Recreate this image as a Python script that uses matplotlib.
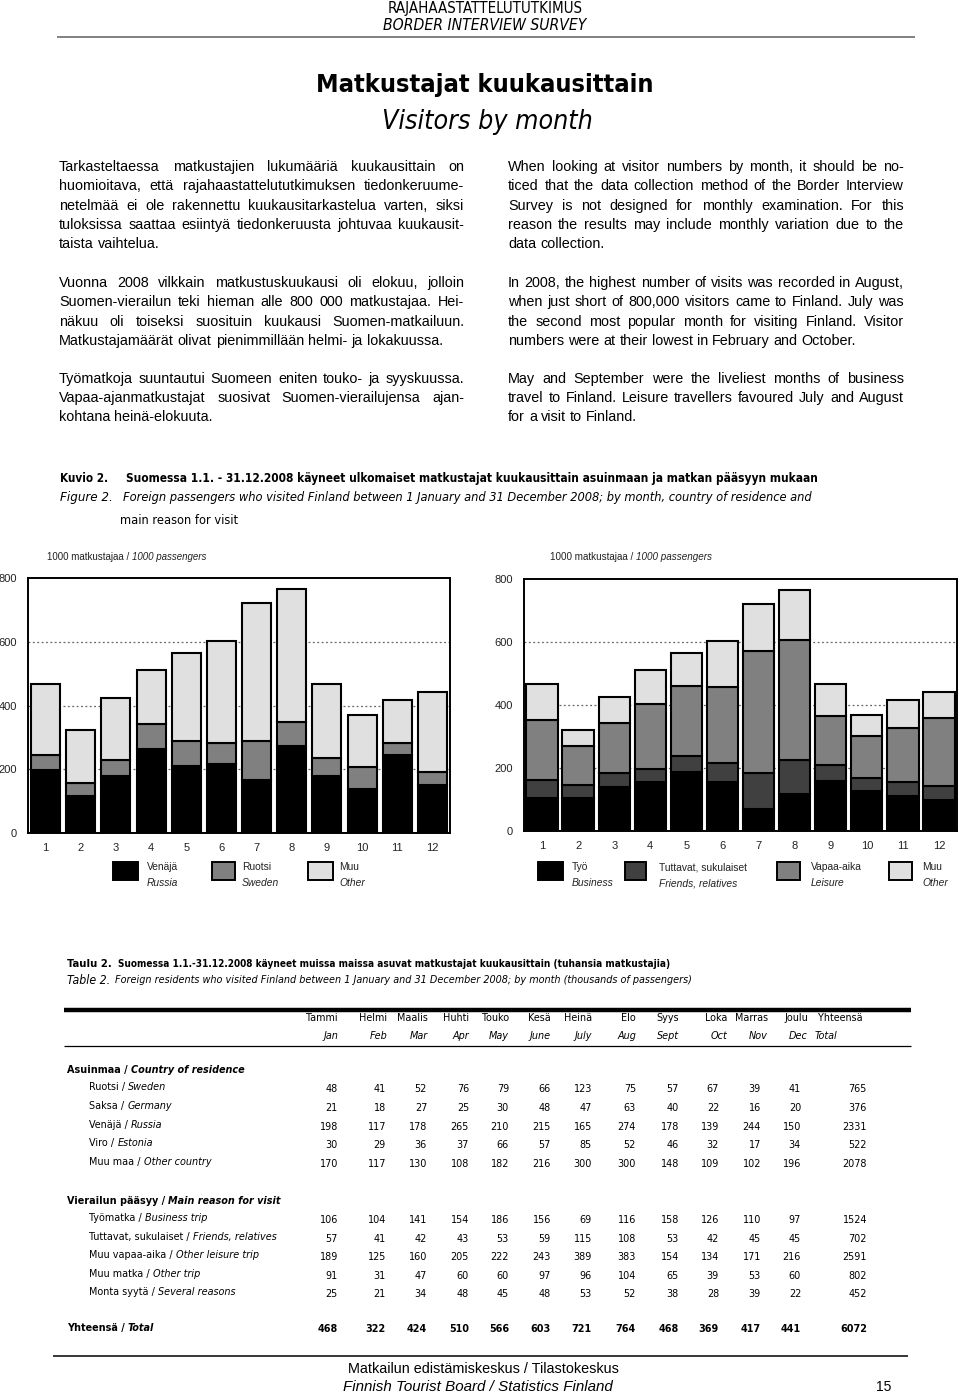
import matplotlib
matplotlib.use("Agg")
import matplotlib.pyplot as plt
import numpy as np
from matplotlib import font_manager
from matplotlib.font_manager import FontProperties
from matplotlib.lines import Line2D
from matplotlib.patches import Rectangle

W, H = 960, 1393
SANS = "Liberation Sans"
plt.rcParams["font.family"] = [SANS, "DejaVu Sans"]


# a condensed family looks closer to the Arial Narrow of the original
def _bold(w):
    if isinstance(w, str):
        return w.lower() in ("bold", "heavy", "black", "extra bold", "demibold", "semibold")
    return w >= 600


def _find_narrow():
    bad = ("semi", "extra", "ultra", "display", "mono", "ui")
    for pref in ["Liberation Sans Narrow", "Noto Sans", "DejaVu Sans", "Open Sans", "Roboto", "Arimo"]:
        group = {}
        for f in font_manager.fontManager.ttflist:
            nm = f.name.lower()
            if not f.name.startswith(pref) or any(b in nm for b in bad):
                continue
            cond = ("narrow" in nm or "cond" in nm or f.stretch == "condensed")
            if not cond or f.stretch in ("semi-condensed", "extra-condensed", "ultra-condensed"):
                continue
            key = (_bold(f.weight), f.style in ("italic", "oblique"))
            group.setdefault(key, f.fname)
        if (False, False) in group:
            return group
    return None


NARROW_FILES = _find_narrow()

# --- data (1000 passengers) ---
months = [str(m) for m in range(1, 13)]
months_fi = ["Tammi", "Helmi", "Maalis", "Huhti", "Touko", "Kesä", "Heinä",
             "Elo", "Syys", "Loka", "Marras", "Joulu"]
months_en = ["Jan", "Feb", "Mar", "Apr", "May", "June", "July", "Aug",
             "Sept", "Oct", "Nov", "Dec"]

sweden = [48, 41, 52, 76, 79, 66, 123, 75, 57, 67, 39, 41]
germany = [21, 18, 27, 25, 30, 48, 47, 63, 40, 22, 16, 20]
russia = [198, 117, 178, 265, 210, 215, 165, 274, 178, 139, 244, 150]
estonia = [30, 29, 36, 37, 66, 57, 85, 52, 46, 32, 17, 34]
other_country = [170, 117, 130, 108, 182, 216, 300, 300, 148, 109, 102, 196]

business = [106, 104, 141, 154, 186, 156, 69, 116, 158, 126, 110, 97]
friends = [57, 41, 42, 43, 53, 59, 115, 108, 53, 42, 45, 45]
leisure = [189, 125, 160, 205, 222, 243, 389, 383, 154, 134, 171, 216]
other_trip = [91, 31, 47, 60, 60, 97, 96, 104, 65, 39, 53, 60]
several = [25, 21, 34, 48, 45, 48, 53, 52, 38, 28, 39, 22]

total = [468, 322, 424, 510, 566, 603, 721, 764, 468, 369, 417, 441]

country_labels = [("Ruotsi /", "Sweden"), ("Saksa /", "Germany"), ("Venäjä /", "Russia"),
                  ("Viro /", "Estonia"), ("Muu maa /", "Other country")]
country_rows = [sweden, germany, russia, estonia, other_country]
country_totals = [765, 376, 2331, 522, 2078]

reason_labels = [("Työmatka /", "Business trip"), ("Tuttavat, sukulaiset /", "Friends, relatives"),
                 ("Muu vapaa-aika /", "Other leisure trip"), ("Muu matka /", "Other trip"),
                 ("Monta syytä /", "Several reasons")]
reason_rows = [business, friends, leisure, other_trip, several]
reason_totals = [1524, 702, 2591, 802, 452]
grand_total = 6072

text_fi = [
    ["Tarkasteltaessa matkustajien lukumääriä kuukausittain on",
     "huomioitava, että rajahaastattelututkimuksen tiedonkeruume-",
     "netelmää ei ole rakennettu kuukausitarkastelua varten, siksi",
     "tuloksissa saattaa esiintyä tiedonkeruusta johtuvaa kuukausit-",
     "taista vaihtelua."],
    ["Vuonna 2008 vilkkain matkustuskuukausi oli elokuu, jolloin",
     "Suomen-vierailun teki hieman alle 800 000 matkustajaa. Hei-",
     "näkuu oli toiseksi suosituin kuukausi Suomen-matkailuun.",
     "Matkustajamäärät olivat pienimmillään helmi- ja lokakuussa."],
    ["Työmatkoja suuntautui Suomeen eniten touko- ja syyskuussa.",
     "Vapaa-ajanmatkustajat suosivat Suomen-vierailujensa ajan-",
     "kohtana heinä-elokuuta."],
]
text_en = [
    ["When looking at visitor numbers by month, it should be no-",
     "ticed that the data collection method of the Border Interview",
     "Survey is not designed for monthly examination. For this",
     "reason the results may include monthly variation due to the",
     "data collection."],
    ["In 2008, the highest number of visits was recorded in August,",
     "when just short of 800,000 visitors came to Finland. July was",
     "the second most popular month for visiting Finland. Visitor",
     "numbers were at their lowest in February and October."],
    ["May and September were the liveliest months of business",
     "travel to Finland.  Leisure travellers favoured July and August",
     "for a visit to Finland."],
]

fig = plt.figure(figsize=(W / 100, H / 100), dpi=100)
fig.patch.set_facecolor("white")
renderer = fig.canvas.get_renderer()


def fx(px):
    return px / W


def fy(py):
    return 1 - py / H


def fprop(size, style="normal", weight="normal", narrow=False):
    if narrow and NARROW_FILES:
        key = (weight == "bold", style == "italic")
        fn = NARROW_FILES.get(key)
        if fn is None:
            fn = NARROW_FILES.get((key[0], False)) or NARROW_FILES[(False, False)]
        return FontProperties(fname=fn, size=size)
    return FontProperties(family=[SANS, "DejaVu Sans"], style=style, weight=weight, size=size)


def text(x, y, s, size, style="normal", weight="normal", narrow=False, **kw):
    kw.setdefault("va", "center")
    return fig.text(fx(x), fy(y), s, fontproperties=fprop(size, style, weight, narrow), **kw)


def width(s, size, style="normal", weight="normal", narrow=False):
    t = fig.text(0, 0, s, fontproperties=fprop(size, style, weight, narrow))
    w = t.get_window_extent(renderer).width
    t.remove()
    return w


def space(size, narrow=False):
    return width("x x", size, narrow=narrow) - width("xx", size, narrow=narrow)


def fit(s, target, style="normal", weight="normal", narrow=False):
    return 10 * target / width(s, 10, style, weight, narrow)


def put(parts, x, y, size, x1=None, ha="left", narrow=False, color="black"):
    parts = [p if len(p) == 3 else (p[0], p[1], "normal") for p in parts]

    def measure(sz):
        return [width(p[0], sz, p[1], p[2], narrow) for p in parts], space(sz, narrow)

    ws, sp = measure(size)
    tot = sum(ws) + sp * (len(parts) - 1)
    if x1 is not None:
        size = size * (x1 - x) / tot
        ws, sp = measure(size)
        tot = sum(ws) + sp * (len(parts) - 1)
    if ha == "center":
        x -= tot / 2
    for (s, st, wt), w in zip(parts, ws):
        text(x, y, s, size, st, wt, narrow, color=color)
        x += w + sp
    return size


def justify(line, x0, x1, y, size, last=False):
    words = line.split()
    ws = [width(w, size) for w in words]
    gap = space(size) if last or len(words) == 1 else (x1 - x0 - sum(ws)) / (len(words) - 1)
    x = x0
    for w, wd in zip(words, ws):
        text(x, y, w, size)
        x += wd + gap


def hline(x0, x1, y, lw, color="black"):
    fig.add_artist(Line2D([fx(x0), fx(x1)], [fy(y), fy(y)], transform=fig.transFigure,
                          color=color, lw=lw, solid_capstyle="butt"))


# --- page header ---
put([("RAJAHAASTATTELUTUTKIMUS", "normal")], 388, 8, 9, x1=582, narrow=True)
put([("BORDER INTERVIEW SURVEY", "italic")], 383, 26, 9, x1=588, narrow=True)
hline(57, 915, 37, 1.3, "#777777")
put([("Matkustajat kuukausittain", "normal", "bold")], 316, 85, 20, x1=654, narrow=True)
put([("Visitors by month", "italic")], 382, 122, 20, x1=593, narrow=True)

# --- body text ---
body = (fit("Matkustajamäärät olivat pienimmillään helmi- ja lokakuussa.", 383)
        + fit("numbers were at their lowest in February and October.", 348)) / 2
para_y = [[167, 186, 206, 225, 244], [283, 302, 322, 341], [379, 398, 417]]
for paras, x0, x1 in ((text_fi, 59, 464), (text_en, 508, 904)):
    for lines, ys in zip(paras, para_y):
        for i, (ln, yy) in enumerate(zip(lines, ys)):
            justify(ln, x0, x1, yy, body, last=(i == len(lines) - 1))

# --- figure caption ---
put([("Kuvio 2.", "normal", "bold")], 60, 479, 9, x1=108, narrow=True)
put([("Suomessa 1.1. - 31.12.2008 käyneet ulkomaiset matkustajat kuukausittain "
      "asuinmaan ja matkan pääsyyn mukaan", "normal", "bold")], 126, 479, 9, x1=825, narrow=True)
put([("Figure 2.", "italic")], 60, 498, 9, x1=113, narrow=True)
put([("Foreign passengers who visited Finland between 1 January and 31 December 2008; "
      "by month, country of residence and", "italic")], 123, 498, 9, x1=817, narrow=True)
put([("main reason for visit", "normal")], 120, 520, 9, x1=238, narrow=True)


# --- charts ---
def stacked(ax, layers, colors, bar_w, ypad):
    x = np.arange(1, 13)
    bottom = np.zeros(12)
    for vals, c in zip(layers, colors):
        vals = np.asarray(vals, dtype=float)
        ax.bar(x, vals, bar_w, bottom=bottom, color=c, edgecolor="black",
               linewidth=1.5, zorder=3)
        bottom += vals
    ax.set_xlim(0.5, 12.5)
    ax.set_ylim(0, 800)
    ax.set_xticks(x, months)
    ax.set_yticks([0, 200, 400, 600, 800])
    ax.tick_params(axis="both", length=0, labelsize=8, labelcolor="#222222")
    ax.tick_params(axis="x", pad=7)
    ax.tick_params(axis="y", pad=ypad)
    for yv in (200, 400, 600):
        ax.axhline(yv, color="#666666", lw=0.9, ls=(0, (1.5, 2)), zorder=1)
    for s in ax.spines.values():
        s.set_linewidth(1.4)


def legend_item(x0, x1, color, tx, fi, en):
    fig.add_artist(Rectangle((fx(x0), fy(880)), fx(x1) - fx(x0), 18 / H,
                             transform=fig.transFigure, facecolor=color,
                             edgecolor="black", lw=1.4))
    text(tx, 867, fi, 7.4, color="#222222")
    text(tx, 883, en, 7.4, style="italic", color="#222222")


ax1 = fig.add_axes([fx(28), fy(833), fx(450) - fx(28), (833 - 578) / H])
other_res = np.array(total) - np.array(russia) - np.array(sweden)
stacked(ax1, [russia, sweden, other_res], ["black", "#808080", "#e0e0e0"], 0.82, 8)
put([("1000 matkustajaa /", "normal"), ("1000 passengers", "italic")], 47, 557, 8,
    x1=209, color="#222222")
legend_item(113, 138, "black", 147, "Venäjä", "Russia")
legend_item(212, 235, "#808080", 242, "Ruotsi", "Sweden")
legend_item(308, 333, "#e0e0e0", 339, "Muu", "Other")

ax2 = fig.add_axes([fx(524), fy(831), fx(957) - fx(524), (831 - 579) / H])
other_rsn = np.array(total) - np.array(business) - np.array(friends) - np.array(leisure)
stacked(ax2, [business, friends, leisure, other_rsn],
        ["black", "#404040", "#808080", "#e0e0e0"], 0.87, 8)
put([("1000 matkustajaa /", "normal"), ("1000 passengers", "italic")], 550, 557, 8,
    x1=713, color="#222222")
legend_item(538, 563, "black", 572, "Työ", "Business")
legend_item(625, 646, "#404040", 659, "Tuttavat, sukulaiset", "Friends, relatives")
legend_item(777, 800, "#808080", 811, "Vapaa-aika", "Leisure")
legend_item(889, 912, "#e0e0e0", 922, "Muu", "Other")

# --- table ---
put([("Taulu 2.", "normal", "bold")], 67, 964, 9, x1=112, narrow=True)
put([("Suomessa 1.1.-31.12.2008 käyneet muissa maissa asuvat matkustajat kuukausittain "
      "(tuhansia matkustajia)", "normal", "bold")], 118, 964, 9, x1=667, narrow=True)
put([("Table 2.", "italic")], 67, 980, 9, x1=110, narrow=True)
put([("Foreign residents who visited Finland between 1 January and 31 December 2008; "
      "by month (thousands of passengers)", "italic")], 115, 980, 9, x1=692, narrow=True)

hline(64, 911, 1010, 3.2)
hline(64, 911, 1046, 0.9)

tsize = fit("Tuttavat, sukulaiset / Friends, relatives", 187, narrow=True)
num_right = [338, 386, 427, 469, 509, 551, 592, 636, 679, 719, 761, 801]
hdr_right = [338, 387, 428, 469, 509, 551, 592, 636, 679, 727, 768, 808]
total_right = 867


def tcell(x, y, s, ha="right", style="normal", weight="normal"):
    text(x, y, s, tsize, style, weight, narrow=True, ha=ha)


for xr, fi, en in zip(hdr_right, months_fi, months_en):
    tcell(xr, 1018, fi)
    tcell(xr, 1036, en, style="italic")
tcell(818, 1018, "Yhteensä", ha="left")
tcell(815, 1036, "Total", ha="left", style="italic")

put([("Asuinmaa /", "normal", "bold"), ("Country of residence", "italic", "bold")],
    67, 1070, tsize, narrow=True)
for (fi, en), row, rt, yy in zip(country_labels, country_rows, country_totals,
                                 [1089, 1108, 1127, 1145, 1164]):
    put([(fi, "normal"), (en, "italic")], 89, yy - 2, tsize, narrow=True)
    for xr, v in zip(num_right, row):
        tcell(xr, yy, str(v))
    tcell(total_right, yy, str(rt))

put([("Vierailun pääsyy /", "normal", "bold"), ("Main reason for visit", "italic", "bold")],
    67, 1201, tsize, narrow=True)
for (fi, en), row, rt, yy in zip(reason_labels, reason_rows, reason_totals,
                                 [1220, 1239, 1257, 1276, 1294]):
    put([(fi, "normal"), (en, "italic")], 89, yy - 2, tsize, narrow=True)
    for xr, v in zip(num_right, row):
        tcell(xr, yy, str(v))
    tcell(total_right, yy, str(rt))

put([("Yhteensä /", "normal", "bold"), ("Total", "italic", "bold")], 67, 1328, tsize, narrow=True)
for xr, v in zip(num_right, total):
    tcell(xr, 1329, str(v), weight="bold")
tcell(total_right, 1329, str(grand_total), weight="bold")

# --- footer ---
hline(53, 908, 1356, 1.1)
put([("Matkailun edistämiskeskus / Tilastokeskus", "normal")], 348, 1369, 10, x1=619)
put([("Finnish Tourist Board / Statistics Finland", "italic")], 343, 1387, 10, x1=614)
text(891, 1387, "15", 10, ha="right")

fig.savefig("out.png", dpi=100, facecolor="white")
